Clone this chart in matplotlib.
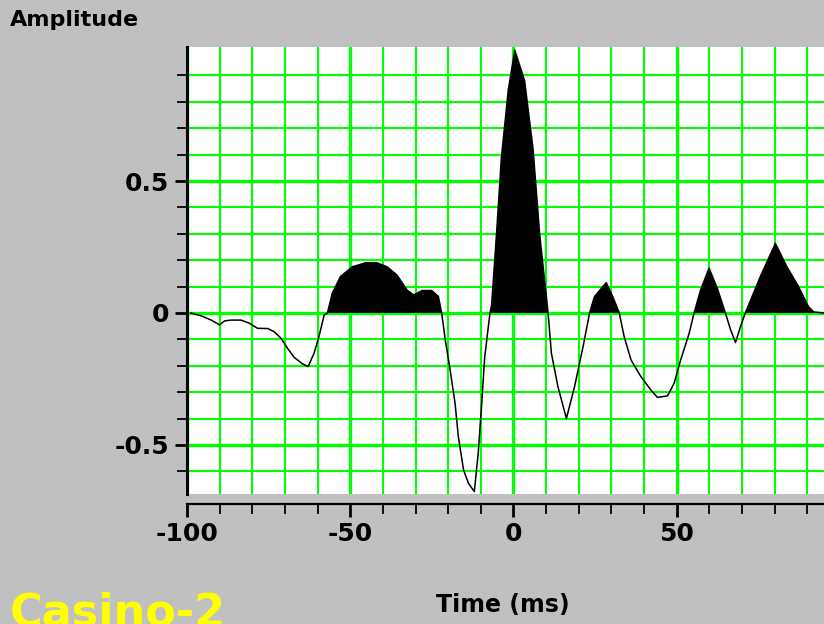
import matplotlib.pyplot as plt
import numpy as np

# ---- data
time_ms = [-98.8, -95.6, -92.6, -90.0, -88.5, -86.5, -83.4, -80.9, -78.4, -75.3,
           -73.3, -71.2, -69.2, -67.2, -64.6, -62.9, -61.1, -59.6, -58.0, -57.0,
           -55.5, -53.0, -49.4, -45.3, -41.8, -38.7, -35.7, -32.6, -30.6, -28.0,
           -25.0, -23.0, -22.0, -20.9, -19.4, -17.9, -16.9, -15.3, -13.8, -12.0,
           -10.8, -9.8, -8.8, -7.2, -6.7, -5.2, -3.7, -1.6, 0.4, 3.4,
           6.0, 8.0, 10.6, 11.6, 13.6, 16.2, 18.7, 21.3, 23.3, 24.8,
           28.4, 30.4, 32.4, 33.9, 36.0, 39.0, 42.1, 44.1, 47.2, 49.2,
           51.2, 53.8, 55.3, 57.3, 59.9, 62.4, 64.9, 66.5, 68.0, 69.5,
           71.0, 75.6, 80.2, 83.7, 87.3, 90.3, 91.9, 95.1]
amplitude = [0.0, -0.011, -0.027, -0.045, -0.03, -0.027, -0.027, -0.039, -0.058, -0.059,
             -0.071, -0.096, -0.134, -0.168, -0.193, -0.203, -0.153, -0.09, -0.008, 0.0,
             0.075, 0.138, 0.175, 0.19, 0.19, 0.175, 0.144, 0.087, 0.068, 0.085,
             0.085, 0.062, 0.0, -0.102, -0.216, -0.342, -0.468, -0.595, -0.645, -0.677,
             -0.53, -0.355, -0.165, 0.0, 0.03, 0.30, 0.59, 0.845, 0.996, 0.88,
             0.62, 0.30, 0.0, -0.152, -0.279, -0.40, -0.279, -0.128, 0.0, 0.062,
             0.115, 0.062, 0.0, -0.09, -0.178, -0.241, -0.292, -0.32, -0.314, -0.266,
             -0.178, -0.077, 0.0, 0.087, 0.17, 0.094, 0.0, -0.064, -0.112, -0.052,
             0.0, 0.138, 0.264, 0.176, 0.1, 0.025, 0.004, 0.0]

x_major = [-100, -50, 0, 50]
y_major = [-0.5, 0, 0.5]
y_major_labels = ["-0.5", "0", "0.5"]

t = np.array(time_ms)
a = np.array(amplitude)

bg = "#c0c0c0"
green = "#00ff00"
font = ["Liberation Sans Narrow", "DejaVu Sans"]

fig = plt.figure(figsize=(8.24, 6.24), dpi=100, facecolor=bg)
ax = fig.add_axes([187 / 824, 1 - 494 / 624, 1 - 187 / 824, (494 - 47) / 624])
ax.set_facecolor("white")

ax.set_xlim(-100, 95.1)
ax.set_ylim(-0.686, 1.008)

#----grid: thin lines every 10 ms / 0.1, thicker on the major values
for x in np.arange(-100, 100, 10):
    lw = 2.4 if x % 50 == 0 else 1.5
    ax.axvline(x, color=green, lw=lw, zorder=1)
for y in np.arange(-0.6, 0.95, 0.1):
    y = round(y, 1)
    lw = 2.4 if abs(round(y * 10)) % 5 == 0 else 1.5
    ax.axhline(y, color=green, lw=lw, zorder=1)

#----trace with positive lobes filled black
ax.fill_between(t, 0, a, where=a >= 0, interpolate=True, color="black", lw=0, zorder=3)
ax.plot(t, a, color="black", lw=1.1, zorder=4)

#----axes styling
for s in ["top", "right"]:
    ax.spines[s].set_visible(False)
ax.spines["left"].set_linewidth(2.2)
ax.spines["bottom"].set_linewidth(1.6)
ax.spines["bottom"].set_position(("outward", 7))

ax.set_xticks(x_major)
ax.set_xticklabels([str(v) for v in x_major])
ax.set_xticks(np.arange(-100, 100, 10), minor=True)
ax.set_yticks(y_major)
ax.set_yticklabels(y_major_labels)
ax.set_yticks(np.arange(-0.6, 0.95, 0.1), minor=True)

ax.tick_params(axis="both", which="both", direction="out", color="black")
ax.tick_params(axis="both", which="major", length=9, width=2)
ax.tick_params(axis="both", which="minor", length=7, width=1.3)
ax.tick_params(axis="x", which="major", pad=4)
ax.tick_params(axis="y", which="major", pad=4)
for lbl in ax.get_xticklabels() + ax.get_yticklabels():
    lbl.set_family(font)
    lbl.set_fontweight("bold")
    lbl.set_fontsize(18)

fig.text(10 / 824, 1 - 20 / 624, "Amplitude", family=font, fontweight="bold",
         fontsize=16, va="center", ha="left")
fig.text(503 / 824, 1 - 605 / 624, "Time (ms)", family=font, fontweight="bold",
         fontsize=17, va="center", ha="center")
fig.text(10 / 824, -2 / 624, "Casino-2", family="DejaVu Sans", fontweight="bold",
         fontsize=32, color="#ffff00", va="baseline", ha="left")

fig.savefig("out.png", dpi=100, facecolor=bg)
